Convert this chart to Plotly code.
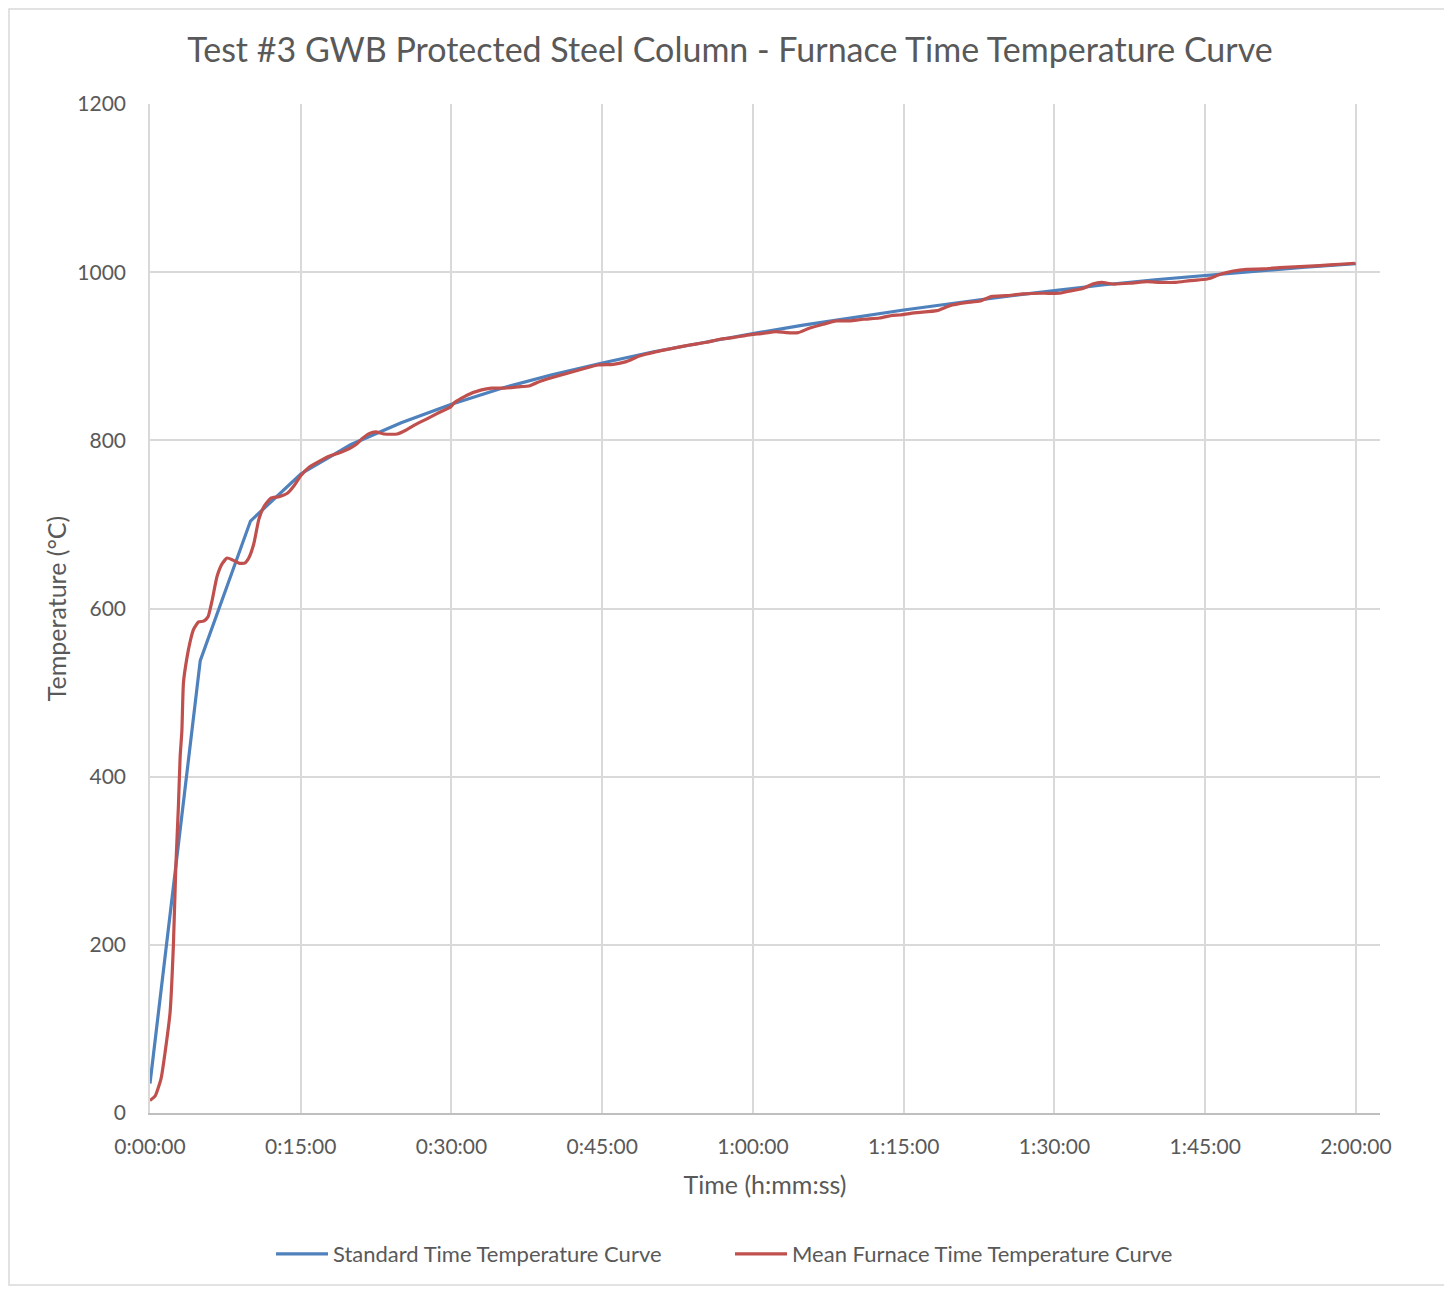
import plotly.graph_objects as go

# ---- data ----
std_time_min = [0, 5, 10, 15, 20, 25, 30, 35, 40, 45, 50, 55, 60, 65, 70, 75,
                80, 85, 90, 95, 100, 105, 110, 115, 120]
std_temp_c = [35, 538, 704, 760, 795, 821, 843, 862, 878, 892, 905, 916, 927,
              937, 946, 955, 963, 971, 978, 985, 991, 996, 1001, 1006, 1010]

furn_time_min = [0, 0.5, 1.1, 1.5, 2.0, 2.33, 2.57, 2.83, 3.0, 3.17, 3.33, 3.67,
                 4.0, 4.33, 4.83, 5.33, 5.77, 6.17, 6.67, 7.17, 7.67, 8.17, 8.83,
                 9.43, 9.83, 10.33, 10.83, 11.33, 12.0, 12.84, 13.67, 14.33, 15.0,
                 15.83, 16.83, 17.82, 18.8, 19.8, 20.5, 21.1, 21.8, 22.46, 23.3,
                 24.6, 25.45, 26.46, 27.46, 28.6, 29.95, 30.3, 31.6, 33.0, 34.0,
                 35.3, 36.6, 37.8, 38.9, 40.3, 41.9, 43.3, 44.6, 46.1, 47.4, 48.7,
                 50.4, 52.0, 53.7, 55.4, 56.7, 58.0, 59.3, 61.0, 62.3, 63.3, 64.5,
                 65.6, 67.0, 68.3, 69.6, 71.0, 72.6, 73.9, 74.6, 76.3, 78.3, 79.6,
                 81.2, 82.6, 83.7, 85.2, 86.9, 88.9, 90.5, 91.2, 92.9, 93.8, 94.7,
                 95.8, 97.5, 99.2, 100.5, 102.1, 103.5, 105.1, 105.5, 106.5, 107.8,
                 109.1, 110.8, 112.4, 114.4, 116.4, 118.4, 119.9]
furn_temp_c = [15, 20, 41, 72, 120, 200, 293, 366, 424, 454, 512, 541,
               561, 575, 584, 585, 590, 609, 638, 653, 660, 658, 654,
               654, 660, 677, 706, 721, 731, 733, 737, 746, 758,
               768, 775, 781, 785, 790, 795, 802, 808, 810, 807.5,
               807.5, 812, 819, 825, 832, 840, 845, 854, 860, 862,
               862, 863.5, 865, 870.6, 875.7, 881, 885.7, 889.6, 890.4, 893.6, 900.3,
               905.5, 909.4, 913.4, 916.6, 920.2, 922.1, 924.9, 927.3, 929.3, 928.1, 928.1,
               933.3, 938.1, 942, 942, 944, 945.5, 948.7, 949.1, 951.8, 954.2, 960.2,
               963.7, 965.7, 970.9, 972, 974.1, 974.9, 974.9, 976.8, 980.8, 985.9, 987.9,
               985.9, 986.8, 988.8, 987.9, 987.9, 990, 991.6, 992.7, 997.5, 1001.4,
               1003.4, 1003.8, 1005.4, 1006.6, 1007.8, 1009.4, 1010.6]

x_tick_vals = [0, 15, 30, 45, 60, 75, 90, 105, 120]
x_tick_text = ["0:00:00", "0:15:00", "0:30:00", "0:45:00", "1:00:00",
               "1:15:00", "1:30:00", "1:45:00", "2:00:00"]
y_tick_vals = [0, 200, 400, 600, 800, 1000, 1200]

FONT = "Lato, 'Open Sans', sans-serif"
TXT = "#595959"
GRID = "#d9d9d9"

W, H = 1444, 1281
L, R, T, B = 142, 72, 96, 176
PW = W - L - R
PH = H - T - B

fig = go.Figure()
fig.add_trace(go.Scatter(x=std_time_min, y=std_temp_c, mode="lines",
                         name="Standard Time Temperature Curve",
                         line=dict(color="#4F81BD", width=3.2)))
fig.add_trace(go.Scatter(x=furn_time_min, y=furn_temp_c, mode="lines",
                         name="Mean Furnace Time Temperature Curve",
                         line=dict(color="#C0504D", width=3.2, shape="spline", smoothing=0.5)))

fig.update_layout(
    width=W, height=H,
    margin=dict(l=L, r=R, t=T, b=B),
    paper_bgcolor="white", plot_bgcolor="white",
    font=dict(family=FONT, color=TXT, size=21),
    title=dict(text="Test #3 GWB Protected Steel Column - Furnace Time Temperature Curve",
               x=0.5, xanchor="center", y=1 - 42 / H, yanchor="middle",
               font=dict(size=34, color=TXT, family=FONT)),
    showlegend=True,
    legend=dict(orientation="h", x=0.5 - 35 / PW, xanchor="center",
                y=(PH - (1246 - T)) / PH, yanchor="middle",
                font=dict(size=22, color=TXT), itemwidth=52,
                entrywidth=392, entrywidthmode="pixels",
                tracegroupgap=0),
)

fig.update_xaxes(range=[0, 122.4], tickvals=x_tick_vals, ticktext=x_tick_text,
                 showgrid=True, gridcolor=GRID, gridwidth=1.5,
                 showline=True, linecolor="#bfbfbf", linewidth=1.5,
                 zeroline=False, ticks="outside", ticklen=14,
                 tickcolor="rgba(0,0,0,0)",
                 tickfont=dict(size=21, color=TXT),
                 title=dict(text="Time (h:mm:ss)", font=dict(size=25, color=TXT),
                            standoff=20))
fig.update_yaxes(range=[0, 1200], tickvals=y_tick_vals,
                 showgrid=True, gridcolor=GRID, gridwidth=1.5,
                 showline=True, linecolor=GRID, linewidth=1.5,
                 zeroline=False, ticks="outside", ticklen=18,
                 tickcolor="rgba(0,0,0,0)",
                 tickfont=dict(size=21, color=TXT),
                 title=dict(text="Temperature (°C)", font=dict(size=25, color=TXT),
                            standoff=4))

# outer chart border
fig.add_shape(type="rect", xref="paper", yref="paper",
              x0=(1 - L) / PW, x1=(1439 - L) / PW,
              y0=(PH - (1277 - T)) / PH, y1=(PH + T - 1) / PH,
              line=dict(color=GRID, width=1.5), fillcolor="rgba(0,0,0,0)",
              layer="below")

fig.write_html("out.html")
